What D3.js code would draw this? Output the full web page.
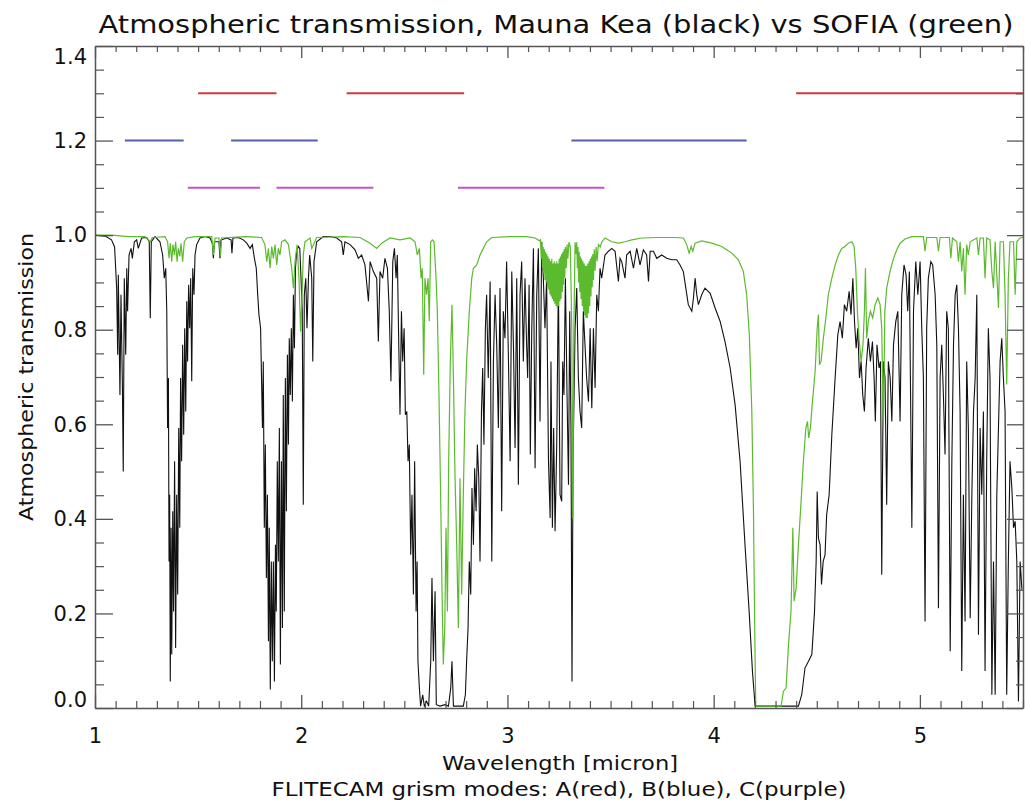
<!DOCTYPE html>
<html>
<head>
<meta charset="utf-8">
<script src="https://cdn.jsdelivr.net/npm/d3@7"></script>
<style>
  html, body { margin: 0; padding: 0; background: #fff; }
  svg { display: block; }
  text { font-family: "DejaVu Sans", sans-serif; fill: #111; }
</style>
</head>
<body>
<svg id="chart" width="1025" height="802"></svg>
<script>
// ---------------- DATA ----------------
const titleText = "Atmospheric transmission, Mauna Kea (black) vs SOFIA (green)";
const xLabelText = "Wavelength [micron]";
const xSubLabelText = "FLITECAM grism modes: A(red), B(blue), C(purple)";
const yLabelText = "Atmospheric transmission";

const xTickValues = [1, 2, 3, 4, 5];
const yTickValues = [0.0, 0.2, 0.4, 0.6, 0.8, 1.0, 1.2, 1.4];

// Grism mode coverage [start, end] in micron
const grismA = [[1.50, 1.88], [2.22, 2.79], [4.40, 5.50]];   // red, plotted at 1.3
const grismB = [[1.145, 1.43], [1.66, 2.08], [3.31, 4.16]];  // blue, plotted at 1.2
const grismC = [[1.45, 1.80], [1.88, 2.35], [2.76, 3.47]];   // purple, plotted at 1.1
const grismLevels = [1.3, 1.2, 1.1];

// Mauna Kea transmission [wavelength, transmission]
const maunaKea = [
[1.000,1.000],[1.050,0.998],[1.080,0.990],[1.095,0.975],[1.105,0.888],[1.110,0.747],[1.113,0.916],[1.121,0.662],
[1.126,0.874],[1.133,0.677],[1.137,0.500],[1.142,0.909],[1.149,0.747],[1.154,0.930],[1.158,0.839],[1.165,0.958],
[1.175,0.972],[1.181,0.951],[1.191,0.986],[1.202,0.990],[1.210,0.972],[1.226,0.994],[1.251,0.995],[1.263,0.986],
[1.268,0.824],[1.273,0.986],[1.291,0.997],[1.315,0.986],[1.328,0.958],[1.336,0.909],[1.343,0.930],[1.348,0.839],
[1.352,0.592],[1.356,0.698],[1.359,0.310],[1.362,0.451],[1.365,0.056],[1.369,0.381],[1.372,0.113],[1.377,0.416],
[1.381,0.204],[1.386,0.522],[1.391,0.127],[1.396,0.451],[1.401,0.240],[1.406,0.592],[1.411,0.381],[1.415,0.698],
[1.420,0.522],[1.425,0.768],[1.430,0.578],[1.435,0.803],[1.440,0.627],[1.445,0.860],[1.449,0.733],[1.454,0.895],
[1.459,0.803],[1.464,0.909],[1.469,0.691],[1.474,0.930],[1.480,0.874],[1.485,0.958],[1.493,0.980],[1.509,0.994],
[1.533,0.997],[1.558,0.994],[1.569,0.983],[1.574,0.951],[1.579,0.986],[1.601,0.986],[1.606,0.951],[1.611,0.990],
[1.639,0.994],[1.660,0.990],[1.664,0.962],[1.669,0.994],[1.695,0.995],[1.719,0.990],[1.736,0.983],[1.752,0.972],
[1.763,0.980],[1.773,0.951],[1.782,0.930],[1.789,0.874],[1.795,0.832],[1.803,0.803],[1.812,0.592],[1.816,0.733],
[1.821,0.381],[1.826,0.557],[1.831,0.275],[1.836,0.451],[1.841,0.141],[1.845,0.381],[1.850,0.039],[1.855,0.310],
[1.860,0.099],[1.865,0.310],[1.870,0.056],[1.875,0.345],[1.879,0.204],[1.884,0.522],[1.889,0.310],[1.894,0.592],
[1.899,0.092],[1.904,0.522],[1.909,0.169],[1.913,0.662],[1.918,0.204],[1.923,0.698],[1.928,0.416],[1.933,0.747],
[1.938,0.557],[1.942,0.782],[1.947,0.662],[1.952,0.803],[1.957,0.648],[1.962,0.874],[1.967,0.761],[1.972,0.930],
[1.978,0.966],[1.986,0.976],[1.993,0.972],[1.999,0.909],[2.005,0.839],[2.010,0.430],[2.015,0.874],[2.022,0.909],
[2.028,0.803],[2.035,0.909],[2.041,0.958],[2.051,0.909],[2.056,0.733],[2.062,0.944],[2.075,0.986],[2.107,0.997],
[2.140,0.997],[2.172,0.994],[2.196,0.986],[2.204,0.958],[2.212,0.986],[2.237,0.980],[2.261,0.969],[2.277,0.951],
[2.293,0.958],[2.309,0.937],[2.326,0.860],[2.334,0.944],[2.350,0.923],[2.366,0.909],[2.374,0.775],[2.382,0.923],
[2.395,0.909],[2.406,0.951],[2.418,0.930],[2.427,0.839],[2.435,0.691],[2.444,0.944],[2.452,0.972],[2.460,0.909],
[2.466,0.958],[2.473,0.768],[2.479,0.620],[2.486,0.839],[2.492,0.733],[2.499,0.803],[2.505,0.620],[2.512,0.627],
[2.518,0.522],[2.524,0.557],[2.531,0.324],[2.537,0.451],[2.544,0.240],[2.550,0.522],[2.557,0.204],[2.562,0.310],
[2.566,0.099],[2.573,0.042],[2.579,0.004],[2.589,0.028],[2.597,0.004],[2.608,0.014],[2.618,0.004],[2.628,0.099],
[2.634,0.275],[2.641,0.099],[2.649,0.247],[2.655,0.007],[2.673,0.004],[2.697,0.007],[2.714,0.004],[2.725,0.042],
[2.731,0.099],[2.738,0.004],[2.762,0.004],[2.786,0.004],[2.796,0.028],[2.802,0.099],[2.809,0.169],[2.815,0.310],
[2.822,0.240],[2.828,0.465],[2.835,0.345],[2.841,0.507],[2.848,0.416],[2.854,0.557],[2.861,0.486],[2.867,0.310],
[2.874,0.627],[2.880,0.719],[2.886,0.557],[2.893,0.803],[2.899,0.874],[2.907,0.698],[2.916,0.902],[2.924,0.310],
[2.932,0.733],[2.940,0.874],[2.948,0.768],[2.956,0.592],[2.964,0.888],[2.972,0.416],[2.980,0.839],[2.988,0.782],
[2.996,0.944],[3.005,0.733],[3.013,0.522],[3.021,0.923],[3.029,0.768],[3.037,0.550],[3.045,0.909],[3.053,0.472],
[3.061,0.874],[3.069,0.944],[3.077,0.733],[3.085,0.909],[3.093,0.768],[3.098,0.698],[3.105,0.895],[3.111,0.536],
[3.118,0.803],[3.126,0.972],[3.134,0.507],[3.142,0.874],[3.150,0.972],[3.158,0.606],[3.166,0.986],[3.174,0.909],
[3.182,0.803],[3.190,0.909],[3.199,0.522],[3.207,0.402],[3.211,0.733],[3.218,0.381],[3.224,0.592],[3.231,0.374],
[3.239,0.557],[3.247,0.909],[3.255,0.451],[3.263,0.437],[3.268,0.733],[3.274,0.662],[3.281,0.909],[3.289,0.662],
[3.296,0.472],[3.302,0.839],[3.308,0.592],[3.313,0.056],[3.318,0.522],[3.328,0.803],[3.336,0.888],[3.344,0.698],
[3.352,0.627],[3.360,0.592],[3.368,0.839],[3.376,0.768],[3.384,0.698],[3.393,0.648],[3.401,0.803],[3.409,0.634],
[3.417,0.803],[3.425,0.677],[3.433,0.874],[3.441,0.839],[3.449,0.930],[3.457,0.909],[3.473,0.958],[3.490,0.966],
[3.506,0.972],[3.522,0.966],[3.538,0.902],[3.546,0.951],[3.554,0.944],[3.570,0.909],[3.578,0.958],[3.595,0.966],
[3.611,0.930],[3.627,0.972],[3.643,0.937],[3.659,0.969],[3.675,0.958],[3.684,0.902],[3.692,0.966],[3.708,0.966],
[3.724,0.951],[3.748,0.958],[3.772,0.951],[3.797,0.948],[3.821,0.948],[3.837,0.937],[3.853,0.923],[3.865,0.888],
[3.877,0.853],[3.894,0.839],[3.902,0.867],[3.910,0.909],[3.918,0.874],[3.926,0.853],[3.942,0.874],[3.958,0.888],
[3.983,0.877],[4.007,0.846],[4.031,0.818],[4.055,0.775],[4.080,0.719],[4.104,0.641],[4.128,0.522],[4.152,0.345],
[4.172,0.204],[4.188,0.078],[4.201,0.004],[4.300,0.004],[4.411,0.004],[4.427,0.028],[4.443,0.085],[4.460,0.099],
[4.476,0.113],[4.489,0.204],[4.497,0.310],[4.502,0.458],[4.508,0.359],[4.516,0.345],[4.523,0.261],[4.531,0.310],
[4.540,0.324],[4.548,0.409],[4.560,0.451],[4.573,0.578],[4.589,0.698],[4.602,0.789],[4.613,0.817],[4.624,0.782],
[4.634,0.853],[4.645,0.839],[4.657,0.881],[4.666,0.832],[4.675,0.909],[4.683,0.817],[4.691,0.761],[4.699,0.803],
[4.707,0.698],[4.715,0.733],[4.723,0.662],[4.731,0.627],[4.739,0.719],[4.750,0.782],[4.760,0.733],[4.770,0.775],
[4.778,0.698],[4.784,0.606],[4.792,0.768],[4.802,0.719],[4.809,0.733],[4.815,0.282],[4.823,0.733],[4.831,0.698],
[4.839,0.430],[4.847,0.733],[4.856,0.698],[4.864,0.606],[4.872,0.768],[4.883,0.817],[4.893,0.839],[4.904,0.606],
[4.912,0.874],[4.923,0.937],[4.933,0.916],[4.941,0.839],[4.949,0.923],[4.961,0.381],[4.969,0.839],[4.980,0.944],
[4.990,0.874],[5.001,0.944],[5.009,0.803],[5.017,0.698],[5.025,0.183],[5.033,0.803],[5.041,0.909],[5.053,0.944],
[5.062,0.937],[5.074,0.874],[5.082,0.768],[5.090,0.211],[5.098,0.698],[5.106,0.768],[5.114,0.662],[5.122,0.536],
[5.130,0.839],[5.138,0.803],[5.147,0.120],[5.155,0.522],[5.163,0.768],[5.171,0.874],[5.179,0.895],[5.187,0.803],
[5.195,0.627],[5.203,0.078],[5.211,0.451],[5.219,0.183],[5.227,0.733],[5.235,0.592],[5.244,0.190],[5.252,0.451],
[5.260,0.627],[5.268,0.698],[5.276,0.874],[5.284,0.155],[5.292,0.592],[5.300,0.451],[5.308,0.627],[5.316,0.078],
[5.324,0.522],[5.332,0.803],[5.340,0.698],[5.349,0.028],[5.357,0.310],[5.365,0.028],[5.373,0.451],[5.381,0.592],
[5.389,0.733],[5.397,0.782],[5.405,0.698],[5.413,0.627],[5.421,0.028],[5.429,0.310],[5.437,0.522],[5.446,0.465],
[5.454,0.381],[5.462,0.395],[5.470,0.310],[5.478,0.014],[5.486,0.310],[5.495,0.250]
];

// SOFIA transmission [wavelength, transmission]
const sofia = [
[1.000,1.000],[1.081,1.000],[1.162,0.997],[1.242,0.997],[1.259,0.990],[1.268,0.986],[1.278,0.995],[1.339,0.997],
[1.352,0.986],[1.359,0.951],[1.365,0.983],[1.372,0.944],[1.378,0.980],[1.385,0.958],[1.391,0.986],[1.398,0.944],
[1.404,0.972],[1.411,0.955],[1.417,0.983],[1.425,0.944],[1.433,0.986],[1.445,0.994],[1.485,0.997],[1.566,0.997],
[1.574,0.958],[1.582,0.994],[1.601,0.994],[1.608,0.955],[1.614,0.994],[1.727,0.997],[1.808,0.995],[1.824,0.980],
[1.833,0.944],[1.841,0.972],[1.849,0.930],[1.857,0.976],[1.865,0.951],[1.873,0.980],[1.881,0.937],[1.889,0.972],
[1.897,0.958],[1.905,0.986],[1.921,0.990],[1.938,0.980],[1.954,0.930],[1.962,0.888],[1.970,0.944],[1.980,0.980],
[1.989,0.909],[1.997,0.796],[2.004,0.874],[2.010,0.958],[2.018,0.986],[2.043,0.994],[2.051,0.972],[2.075,0.995],
[2.204,0.997],[2.285,0.995],[2.334,0.983],[2.366,0.972],[2.390,0.983],[2.431,0.994],[2.479,0.990],[2.528,0.994],
[2.552,0.986],[2.563,0.958],[2.573,0.972],[2.581,0.909],[2.587,0.930],[2.594,0.705],[2.600,0.909],[2.608,0.874],
[2.615,0.909],[2.621,0.818],[2.628,0.986],[2.636,0.990],[2.644,0.986],[2.654,0.909],[2.660,0.839],[2.668,0.662],
[2.676,0.451],[2.683,0.240],[2.689,0.092],[2.696,0.169],[2.702,0.381],[2.709,0.204],[2.715,0.522],[2.723,0.733],
[2.731,0.853],[2.738,0.698],[2.746,0.486],[2.754,0.345],[2.762,0.169],[2.770,0.486],[2.778,0.240],[2.786,0.451],
[2.794,0.627],[2.802,0.733],[2.815,0.839],[2.827,0.909],[2.835,0.930],[2.851,0.937],[2.867,0.958],[2.883,0.972],
[2.899,0.986],[2.924,0.995],[3.013,0.997],[3.093,0.997],[3.134,0.994],[3.155,0.988],
[3.160,0.990],[3.164,0.950],[3.167,0.985],[3.170,0.930],[3.173,0.975],[3.176,0.920],[3.179,0.970],[3.182,0.905],
[3.185,0.965],[3.188,0.900],[3.191,0.960],[3.194,0.890],[3.197,0.955],[3.200,0.885],[3.203,0.950],[3.206,0.875],
[3.209,0.945],[3.212,0.870],[3.215,0.950],[3.218,0.865],[3.221,0.940],[3.224,0.860],[3.227,0.945],[3.230,0.855],
[3.233,0.940],[3.236,0.850],[3.239,0.945],[3.242,0.845],[3.245,0.940],[3.248,0.850],[3.251,0.950],[3.254,0.860],
[3.257,0.955],[3.260,0.865],[3.263,0.960],[3.266,0.880],[3.269,0.965],[3.272,0.895],[3.275,0.970],[3.278,0.910],
[3.281,0.975],[3.285,0.930],[3.289,0.980],[3.293,0.950],[3.298,0.985],[3.305,0.975],[3.312,0.800],[3.317,0.400],
[3.322,0.800],[3.328,0.985],[3.333,0.960],[3.336,0.985],[3.339,0.930],[3.342,0.975],[3.345,0.900],[3.348,0.965],
[3.351,0.880],[3.354,0.955],[3.357,0.865],[3.360,0.950],[3.363,0.850],[3.366,0.945],[3.369,0.840],[3.372,0.940],
[3.375,0.830],[3.378,0.935],[3.381,0.825],[3.384,0.935],[3.387,0.825],[3.390,0.940],[3.393,0.835],[3.396,0.945],
[3.399,0.850],[3.402,0.950],[3.405,0.870],[3.408,0.955],[3.411,0.890],[3.414,0.960],[3.417,0.905],[3.421,0.970],
[3.425,0.925],[3.430,0.975],[3.435,0.945],[3.441,0.980],[3.450,0.975],[3.457,0.985],[3.473,0.994],
[3.506,0.986],[3.538,0.983],[3.570,0.986],[3.603,0.990],[3.651,0.994],[3.732,0.995],[3.813,0.995],[3.853,0.994],
[3.869,0.980],[3.881,0.962],[3.891,0.976],[3.899,0.966],[3.910,0.983],[3.942,0.988],[3.991,0.983],[4.039,0.976],
[4.063,0.969],[4.088,0.962],[4.120,0.948],[4.144,0.923],[4.160,0.874],[4.173,0.789],[4.185,0.627],[4.193,0.416],
[4.199,0.169],[4.204,0.004],[4.282,0.004],[4.327,0.004],[4.338,0.035],[4.351,0.042],[4.363,0.134],[4.375,0.204],
[4.384,0.381],[4.390,0.226],[4.400,0.254],[4.411,0.345],[4.424,0.437],[4.435,0.522],[4.447,0.592],[4.455,0.606],
[4.461,0.571],[4.469,0.592],[4.479,0.648],[4.492,0.712],[4.502,0.803],[4.508,0.832],[4.513,0.726],[4.521,0.733],
[4.532,0.782],[4.544,0.825],[4.556,0.874],[4.573,0.909],[4.589,0.937],[4.605,0.958],[4.621,0.972],[4.637,0.976],
[4.653,0.983],[4.670,0.986],[4.681,0.976],[4.689,0.930],[4.697,0.839],[4.705,0.782],[4.715,0.733],[4.724,0.768],
[4.731,0.839],[4.736,0.930],[4.742,0.782],[4.750,0.818],[4.760,0.839],[4.771,0.825],[4.783,0.853],[4.796,0.867],
[4.807,0.853],[4.815,0.803],[4.823,0.592],[4.830,0.839],[4.839,0.888],[4.855,0.923],[4.872,0.951],[4.888,0.969],
[4.904,0.983],[4.928,0.992],[4.961,0.997],[5.017,0.997],[5.025,0.966],[5.033,0.995],[5.082,0.995],[5.090,0.966],
[5.098,0.995],[5.143,0.995],[5.150,0.951],[5.158,0.994],[5.179,0.986],[5.187,0.944],[5.195,0.986],[5.203,0.923],
[5.211,0.972],[5.219,0.874],[5.227,0.980],[5.235,0.958],[5.244,0.986],[5.276,0.994],[5.284,0.958],[5.292,0.994],
[5.308,0.994],[5.316,0.909],[5.324,0.994],[5.340,0.990],[5.349,0.923],[5.357,0.888],[5.365,0.986],[5.381,0.846],
[5.389,0.986],[5.405,0.986],[5.413,0.874],[5.421,0.684],[5.429,0.909],[5.437,0.986],[5.454,0.986],[5.462,0.874],
[5.470,0.986],[5.486,0.994],[5.500,0.995]
];

// ---------------- LAYOUT ----------------
const svg = d3.select("#chart");
const M = { left: 95, right: 1023, top: 46, bottom: 708 };
const x = d3.scaleLinear().domain([1, 5.5]).range([M.left, M.right]);
const y = d3.scaleLinear().domain([0, 1.4]).range([M.bottom, M.top]);
const axisColor = "#555";

svg.append("defs").append("clipPath").attr("id", "plotclip")
  .append("rect").attr("x", M.left).attr("y", M.top - 2)
  .attr("width", M.right - M.left).attr("height", M.bottom - M.top + 2);

const plot = svg.append("g").attr("clip-path", "url(#plotclip)");

// Grism mode bars
const grismSets = [grismA, grismB, grismC];
const grismColors = ["#d0383c", "#5560a8", "#c653c6"];
grismSets.forEach((set, i) => {
  plot.selectAll(null).data(set).enter().append("line")
    .attr("x1", d => x(d[0])).attr("x2", d => x(d[1]))
    .attr("y1", y(grismLevels[i])).attr("y2", y(grismLevels[i]))
    .attr("stroke", grismColors[i]).attr("stroke-width", 2);
});

const line = d3.line().x(d => x(d[0])).y(d => y(d[1]));
plot.append("path").datum(maunaKea).attr("d", line)
  .attr("fill", "none").attr("stroke", "#111").attr("stroke-width", 1.1);
plot.append("path").datum(sofia).attr("d", line)
  .attr("fill", "none").attr("stroke", "#5cba2e").attr("stroke-width", 1.2);

// ---------------- AXES ----------------
const xMinor = d3.range(10, 56).map(v => v / 10).filter(v => !xTickValues.includes(v));
const yMinor = d3.range(0, 29).map(v => v / 20).filter(v => !yTickValues.some(t => Math.abs(t - v) < 1e-6));

function styleAxis(g) {
  g.select(".domain").attr("stroke", axisColor).attr("stroke-width", 1.5);
  g.selectAll(".tick line").attr("stroke", axisColor).attr("stroke-width", 1.3);
}

// bottom
const gB = svg.append("g").attr("transform", `translate(0,${M.bottom})`)
  .call(d3.axisBottom(x).tickValues(xTickValues).tickSize(-13).tickSizeOuter(0).tickPadding(20).tickFormat(d3.format("d")));
styleAxis(gB);
gB.selectAll(".tick text").attr("font-size", 21).attr("font-family", "DejaVu Sans").attr("fill", "#111");
svg.append("g").attr("transform", `translate(0,${M.bottom})`)
  .call(d3.axisBottom(x).tickValues(xMinor).tickSize(-7).tickSizeOuter(0).tickFormat(""))
  .call(g => { g.select(".domain").remove(); g.selectAll(".tick line").attr("stroke", axisColor).attr("stroke-width", 1.2); });

// top
const gT = svg.append("g").attr("transform", `translate(0,${M.top})`)
  .call(d3.axisTop(x).tickValues(xTickValues).tickSize(-12).tickSizeOuter(0).tickFormat(""));
styleAxis(gT);
svg.append("g").attr("transform", `translate(0,${M.top})`)
  .call(d3.axisTop(x).tickValues(xMinor).tickSize(-6).tickSizeOuter(0).tickFormat(""))
  .call(g => { g.select(".domain").remove(); g.selectAll(".tick line").attr("stroke", axisColor).attr("stroke-width", 1.2); });

// left
const gL = svg.append("g").attr("transform", `translate(${M.left},0)`)
  .call(d3.axisLeft(y).tickValues(yTickValues).tickSize(-18).tickSizeOuter(0).tickPadding(8).tickFormat(d3.format(".1f")));
styleAxis(gL);
gL.selectAll(".tick text").attr("font-size", 21).attr("font-family", "DejaVu Sans").attr("fill", "#111")
  .attr("dy", d => d === 1.4 ? "0.85em" : (d === 0 ? "-0.05em" : "0.32em"));
svg.append("g").attr("transform", `translate(${M.left},0)`)
  .call(d3.axisLeft(y).tickValues(yMinor).tickSize(-9).tickSizeOuter(0).tickFormat(""))
  .call(g => { g.select(".domain").remove(); g.selectAll(".tick line").attr("stroke", axisColor).attr("stroke-width", 1.2); });

// right
const gR = svg.append("g").attr("transform", `translate(${M.right},0)`)
  .call(d3.axisRight(y).tickValues(yTickValues).tickSize(-16).tickSizeOuter(0).tickFormat(""));
styleAxis(gR);
svg.append("g").attr("transform", `translate(${M.right},0)`)
  .call(d3.axisRight(y).tickValues(yMinor).tickSize(-7).tickSizeOuter(0).tickFormat(""))
  .call(g => { g.select(".domain").remove(); g.selectAll(".tick line").attr("stroke", axisColor).attr("stroke-width", 1.2); });

// ---------------- TEXT ----------------
svg.append("text").attr("x", 556).attr("y", 33).attr("text-anchor", "middle")
  .attr("font-size", 25).attr("textLength", 915).attr("lengthAdjust", "spacingAndGlyphs")
  .text(titleText);

svg.append("text").attr("x", 560).attr("y", 770).attr("text-anchor", "middle")
  .attr("font-size", 20).attr("textLength", 236).attr("lengthAdjust", "spacingAndGlyphs")
  .text(xLabelText);

svg.append("text").attr("x", 559).attr("y", 796).attr("text-anchor", "middle")
  .attr("font-size", 20).attr("textLength", 575).attr("lengthAdjust", "spacingAndGlyphs")
  .text(xSubLabelText);

svg.append("text").attr("transform", "translate(33,377) rotate(-90)").attr("text-anchor", "middle")
  .attr("font-size", 20).attr("textLength", 288).attr("lengthAdjust", "spacingAndGlyphs")
  .text(yLabelText);
</script>
</body>
</html>
